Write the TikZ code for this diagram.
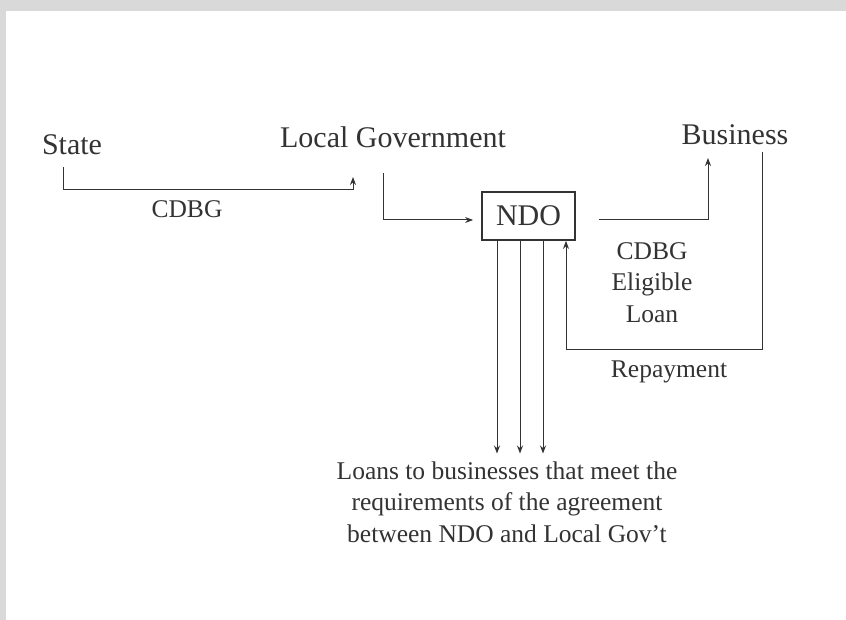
\documentclass[tikz,border=0pt]{standalone}
\usepackage{fontspec}
\setmainfont{Liberation Serif}
\usetikzlibrary{arrows.meta,calc}
\definecolor{FrameClr}{rgb}{0.85,0.85,0.85}
\definecolor{InkClr}{rgb}{0.2,0.2,0.2}
\tikzset{
  party/.style={inner sep=0pt,anchor=base,text=InkClr,font=\fontsize{15}{18}\selectfont},
  note/.style={inner sep=0pt,anchor=base,align=center,text=InkClr,font=\fontsize{12.75}{15.6}\selectfont},
  flow/.style={draw=InkClr,line width=0.5pt,-{Stealth[length=4pt,width=3pt]}},
}

\begin{document}
\begin{tikzpicture}[x=0.5pt,y=-0.5pt]
\fill[FrameClr] (0,0) rectangle (846,620);
\fill[white] (6,11) rectangle (846,620);
\useasboundingbox (0,0) rectangle (846,620);

\node[party] (state) at (72,155) {State};
\node[party] (lgov) at (393,148) {Local Government};
\node[party] (bus) at (735,145) {Business};
\node[draw=InkClr,line width=0.9pt,minimum width=46.5pt,minimum height=24pt,
  inner sep=0pt,text=InkClr,font=\fontsize{15}{18}\selectfont] (ndo) at (528.5,216) {NDO};

\node[note] (cdbg) at (187,218) {CDBG};
\node[note] (elig) at (652,322) {CDBG\\Eligible\\Loan};
\node[note] (repay) at (669,378) {Repayment};
\node[note] (loans) at (507,542) {Loans to businesses that meet the\\
  requirements of the agreement\\between NDO and Local Gov’t};

% free ends of the connectors
\coordinate (s0) at (63,167);
\coordinate (lg0) at (353,177);
\coordinate (lg1) at (383,173);
\coordinate (bz0) at (708,158);
\coordinate (bz1) at (762,152);
\coordinate (rp) at (566,349);

\draw[flow] (s0) -- ++(0,23) -| (lg0);
\draw[flow] (lg1) |- ([xshift=-4pt,yshift=-2pt]ndo.west);
\draw[flow] ([xshift=11.5pt,yshift=-2pt]ndo.east) -| (bz0);
\draw[flow] (bz1) |- (rp) -- (rp |- ndo.south);
\foreach \x in {497,520,543}
  \draw[flow,shorten >=4pt] (ndo.south -| \x,0) -- (loans.north -| \x,0);

\end{tikzpicture}
\end{document}
